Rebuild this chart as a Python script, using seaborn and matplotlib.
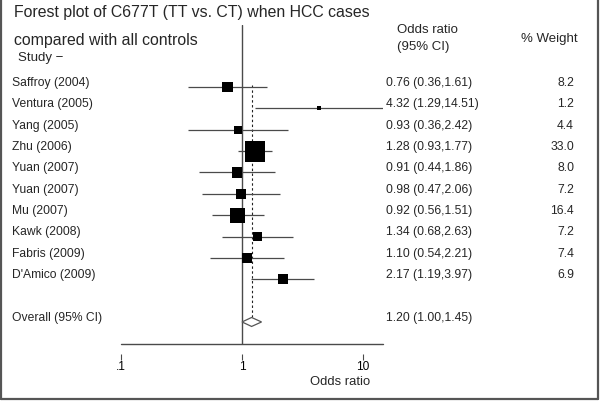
import numpy as np
import pandas as pd
import matplotlib
matplotlib.use('Agg')
import matplotlib.pyplot as plt
import matplotlib.transforms as mtrans
from matplotlib.lines import Line2D
import seaborn as sns

# study data
studies = ['Saffroy (2004)', 'Ventura (2005)', 'Yang (2005)', 'Zhu (2006)', 'Yuan (2007)',
           'Yuan (2007)', 'Mu (2007)', 'Kawk (2008)', 'Fabris (2009)', "D'Amico (2009)"]
odds = [0.76, 4.32, 0.93, 1.28, 0.91, 0.98, 0.92, 1.34, 1.10, 2.17]
ci_low = [0.36, 1.29, 0.36, 0.93, 0.44, 0.47, 0.56, 0.68, 0.54, 1.19]
ci_high = [1.61, 14.51, 2.42, 1.77, 1.86, 2.06, 1.51, 2.63, 2.21, 3.97]
weights = [8.2, 1.2, 4.4, 33.0, 8.0, 7.2, 16.4, 7.2, 7.4, 6.9]

overall_label = 'Overall (95% CI)'
overall_or, overall_lo, overall_hi = 1.20, 1.00, 1.45

tick_vals = [0.1, 1, 10]
tick_labels = ['.1', '1', '10']

df = pd.DataFrame({'study': studies, 'or': odds, 'lo': ci_low, 'hi': ci_high, 'w': weights})
df['row'] = np.arange(len(df))
overall_row = len(df) + 1

sns.set_theme(style='white')
plt.rcParams['font.family'] = ['Liberation Sans', 'DejaVu Sans']

W, H = 600, 401
fig = plt.figure(figsize=(W / 100, H / 100), dpi=100)
fig.patch.set_facecolor('white')


def fx(px):
    return px / W


def fy(py):
    return 1 - py / H


# plot region in pixels
row0_px, row_step = 87, 21.36
top_px, axis_px = 25, 344
ax = fig.add_axes([fx(121), fy(axis_px), fx(382.6) - fx(121), fy(top_px) - fy(axis_px)])
ax.set_xscale('log')
ax.set_xlim(0.1, 14.51)
ax.set_ylim((axis_px - row0_px) / row_step, (top_px - row0_px) / row_step)

line_col = '#4a4a4a'

# confidence intervals
ax.hlines(df['row'], df['lo'], df['hi'], color=line_col, lw=0.9, zorder=2)

# weighted boxes (area ~ weight)
sns.scatterplot(data=df, x='or', y='row', size='w', sizes=(8.3, 228), size_norm=(1.2, 33.0),
                marker='s', color='black', linewidth=0, legend=False, ax=ax, zorder=3)

# null line and overall estimate line
ax.axvline(1, color=line_col, lw=1.0, zorder=1)
ax.vlines(overall_or, -0.1, overall_row - 0.21, color='#222222', lw=0.8,
          linestyles=(0, (2.2, 2.2)), zorder=1)

# overall diamond
dh = 0.21
ax.fill([overall_lo, overall_or, overall_hi, overall_or],
        [overall_row, overall_row - dh, overall_row, overall_row + dh],
        facecolor='white', edgecolor='#555555', lw=0.9, zorder=4)

# axis line with detached ticks (Stata style)
for s in ['top', 'right', 'left']:
    ax.spines[s].set_visible(False)
ax.spines['bottom'].set_position(('outward', 7.2))
ax.spines['bottom'].set_visible(False)
ax.plot([0.1, 14.51], [ax.get_ylim()[0]] * 2, color=line_col, lw=1.0, clip_on=False)
ax.set_xticks(tick_vals)
ax.set_xticklabels(tick_labels)
ax.xaxis.set_minor_locator(matplotlib.ticker.NullLocator())
ax.tick_params(axis='x', bottom=True, length=4.3, width=0.8, color=line_col, pad=0.5,
               labelsize=8.6, labelcolor='black', direction='out')
ax.set_yticks([])
ax.set_xlabel('')
ax.set_ylabel('')

# row texts
tr = mtrans.blended_transform_factory(fig.transFigure, ax.transData)
body = 8.7
off = 0.19
for _, r in df.iterrows():
    y = r['row'] - off
    ax.text(fx(12), y, r['study'], transform=tr, fontsize=body, va='center', ha='left')
    ax.text(fx(386), y, f"{r['or']:.2f} ({r['lo']:.2f},{r['hi']:.2f})", transform=tr,
            fontsize=body, va='center', ha='left')
    ax.text(fx(574), y, f"{r['w']:.1f}", transform=tr, fontsize=body, va='center', ha='right')

ax.text(fx(12), overall_row - off, overall_label, transform=tr, fontsize=body, va='center')
ax.text(fx(386), overall_row - off, f"{overall_or:.2f} ({overall_lo:.2f},{overall_hi:.2f})",
        transform=tr, fontsize=body, va='center')

# headers and title
fig.text(fx(14), fy(13), 'Forest plot of C677T (TT vs. CT) when HCC cases', fontsize=11.4, va='center')
fig.text(fx(14), fy(41), 'compared with all controls', fontsize=11.4, va='center')
fig.text(fx(18), fy(58), 'Study \u2212', fontsize=9.5, va='center')
fig.text(fx(397), fy(30), 'Odds ratio', fontsize=9.5, va='center')
fig.text(fx(397), fy(47), '(95% CI)', fontsize=9.5, va='center')
fig.text(fx(521), fy(39), '% Weight', fontsize=9.5, va='center')
fig.text(fx(340), fy(382), 'Odds ratio', fontsize=9.4, va='center', ha='center')

# gray frame
frame_col = '#555555'
for xs, ys in [([1, 1], [0, 399]), ([598, 598], [0, 399]), ([1, 598], [399, 399])]:
    fig.add_artist(Line2D([fx(x) for x in xs], [fy(y) for y in ys], color=frame_col, lw=1.6,
                          transform=fig.transFigure))

fig.savefig('out.png', dpi=100)
